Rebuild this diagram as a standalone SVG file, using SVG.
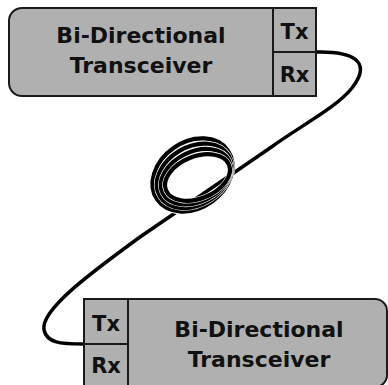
<svg xmlns="http://www.w3.org/2000/svg" width="388" height="385" viewBox="0 0 388 385">
<style>
.box{fill:#b0b0b0;stroke:#1a1a1a;stroke-width:2}
.div{stroke:#1a1a1a;stroke-width:2;fill:none}
.t{font-family:"DejaVu Sans",sans-serif;font-weight:bold;fill:#111;text-anchor:middle}
.big{font-size:22px}
.sm{font-size:21px}
.cable{fill:none;stroke:#000;stroke-width:3.5;stroke-linecap:round}
.ringw{fill:none;stroke:#fff;stroke-width:5.4}
.ringb{fill:none;stroke:#000;stroke-width:4.2}
</style>
<rect width="388" height="385" fill="#fff"/>
<g id="connectors">
<path class="cable" d="M316,52 C350,51 374,60 352,88 C336,108 300,126 270,148 L140,237 C92,272 40,310 44,330 C47,343 60,344 84,344"/>
</g>
<g id="coil">
<g transform="translate(192.5,175) rotate(-35)">
<ellipse class="ringw" rx="43" ry="33"/>
<ellipse class="ringb" rx="43" ry="33"/>
</g>
<g transform="translate(194.2,175.8) rotate(-30.7)">
<ellipse class="ringw" rx="40" ry="29"/>
<ellipse class="ringb" rx="40" ry="29"/>
</g>
<g transform="translate(195.8,176.7) rotate(-26.3)">
<ellipse class="ringw" rx="37" ry="25"/>
<ellipse class="ringb" rx="37" ry="25"/>
</g>
<g transform="translate(197.5,177.5) rotate(-22)">
<ellipse class="ringw" rx="34" ry="21"/>
<ellipse class="ringb" rx="34" ry="21"/>
</g>
</g>
<g id="transceiver-top">
<path class="box" d="M22,8 H316 V96 H22 A13,13 0 0 1 9,83 V21 A13,13 0 0 1 22,8 Z"/>
<path class="div" d="M273,8 V96 M273,52 H316"/>
<text class="t big" x="141" y="43">Bi-Directional</text>
<text class="t big" x="141" y="73">Transceiver</text>
<text class="t sm" x="294.5" y="39">Tx</text>
<text class="t sm" x="294.5" y="82">Rx</text>
</g>
<g id="transceiver-bottom">
<path class="box" d="M84,299 H375 A12,12 0 0 1 387,311 V375 A12,12 0 0 1 375,387 H84 Z"/>
<path class="div" d="M128,299 V387 M84,344 H128"/>
<text class="t big" x="259" y="337">Bi-Directional</text>
<text class="t big" x="259" y="367">Transceiver</text>
<text class="t sm" x="106" y="331">Tx</text>
<text class="t sm" x="106" y="373">Rx</text>
</g>
</svg>
